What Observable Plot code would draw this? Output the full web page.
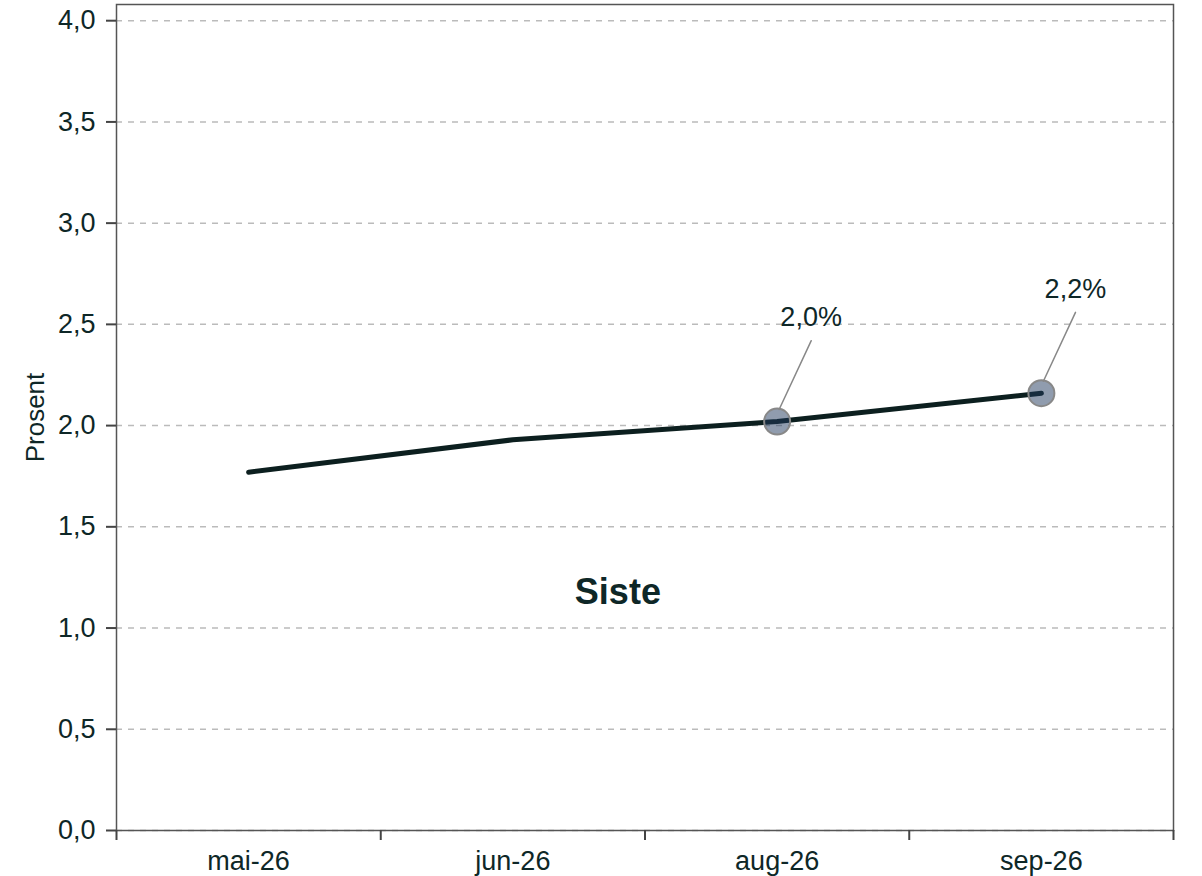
<!DOCTYPE html>
<html>
<head>
<meta charset="utf-8">
<script src="https://cdn.jsdelivr.net/npm/d3@7"></script>
<script src="https://cdn.jsdelivr.net/npm/@observablehq/plot@0.6"></script>
<style>
  html, body { margin: 0; padding: 0; background: #fff; }
  #chart svg { display: block; }
</style>
</head>
<body>
<div id="chart"></div>
<script>
const months = ["mai-26", "jun-26", "aug-26", "sep-26"];
const values = [1.77, 1.93, 2.02, 2.16];
const highlightMonths = ["aug-26", "sep-26"];
const highlightLabels = ["2,0%", "2,2%"];
const yTicks = [0, 0.5, 1, 1.5, 2, 2.5, 3, 3.5, 4];
const noteText = "Siste";
const noteMonth = "jun-26";
const noteValue = 1.175;
const yLabel = "Prosent";

const series = months.map((m, i) => ({i, month: m, value: values[i]}));
const highlights = highlightMonths.map((m, k) => ({
  i: months.indexOf(m), value: values[months.indexOf(m)], label: highlightLabels[k]
}));
const boundaries = d3.range(months.length + 1).map(k => k - 0.5);
const fmt = d => d3.format(".1f")(d).replace(".", ",");
const textColor = "#0e2727";
const font = "Liberation Sans, Arial, sans-serif";

const chart = Plot.plot({
  width: 1202,
  height: 876,
  marginLeft: 116,
  marginRight: 29,
  marginTop: 4,
  marginBottom: 46,
  style: {fontFamily: font, color: textColor, background: "#fff"},
  x: {type: "linear", domain: [-0.5, months.length - 0.5]},
  y: {domain: [0, 4.08]},
  marks: [
    Plot.gridY(yTicks, {stroke: "#bbb", strokeOpacity: 1, strokeWidth: 1.5, strokeDasharray: "6,6"}),
    Plot.frame({stroke: "#555", strokeWidth: 1.5}),
    Plot.axisY(yTicks, {tickSize: 10, tickPadding: 11, tickFormat: fmt, fontSize: 27, stroke: "#444", strokeWidth: 2, fill: textColor, label: null}),
    Plot.axisX(boundaries, {tickSize: 10, tickFormat: () => "", stroke: "#444", strokeWidth: 2, label: null}),
    Plot.axisX(d3.range(months.length), {tickSize: 0, tickPadding: 20, tickFormat: i => months[i], fontSize: 27, fill: textColor, label: null}),
    Plot.text([yLabel], {frameAnchor: "left", textAnchor: "middle", dx: -81, rotate: -90, text: d => d, fontSize: 26, fill: textColor}),
    Plot.line(series, {x: "i", y: "value", stroke: "#0c1f1f", strokeWidth: 5}),
    Plot.dot(highlights, {x: "i", y: "value", r: 13, fill: "#22395e", fillOpacity: 0.5, stroke: "#888", strokeWidth: 2}),
    Plot.vector(highlights, {x: "i", y: "value", anchor: "start", length: 76, rotate: 25, r: 0, dx: 2, dy: -12, stroke: "#888", strokeWidth: 1.5}),
    Plot.text(highlights, {x: "i", y: "value", text: "label", dx: 34, dy: -104, fontSize: 27, fill: textColor}),
    Plot.text([noteText], {x: () => months.indexOf(noteMonth), y: () => noteValue, text: d => d, dx: 105, fontSize: 36, fontWeight: "bold", fill: textColor})
  ]
});
document.getElementById("chart").appendChild(chart);
</script>
</body>
</html>
